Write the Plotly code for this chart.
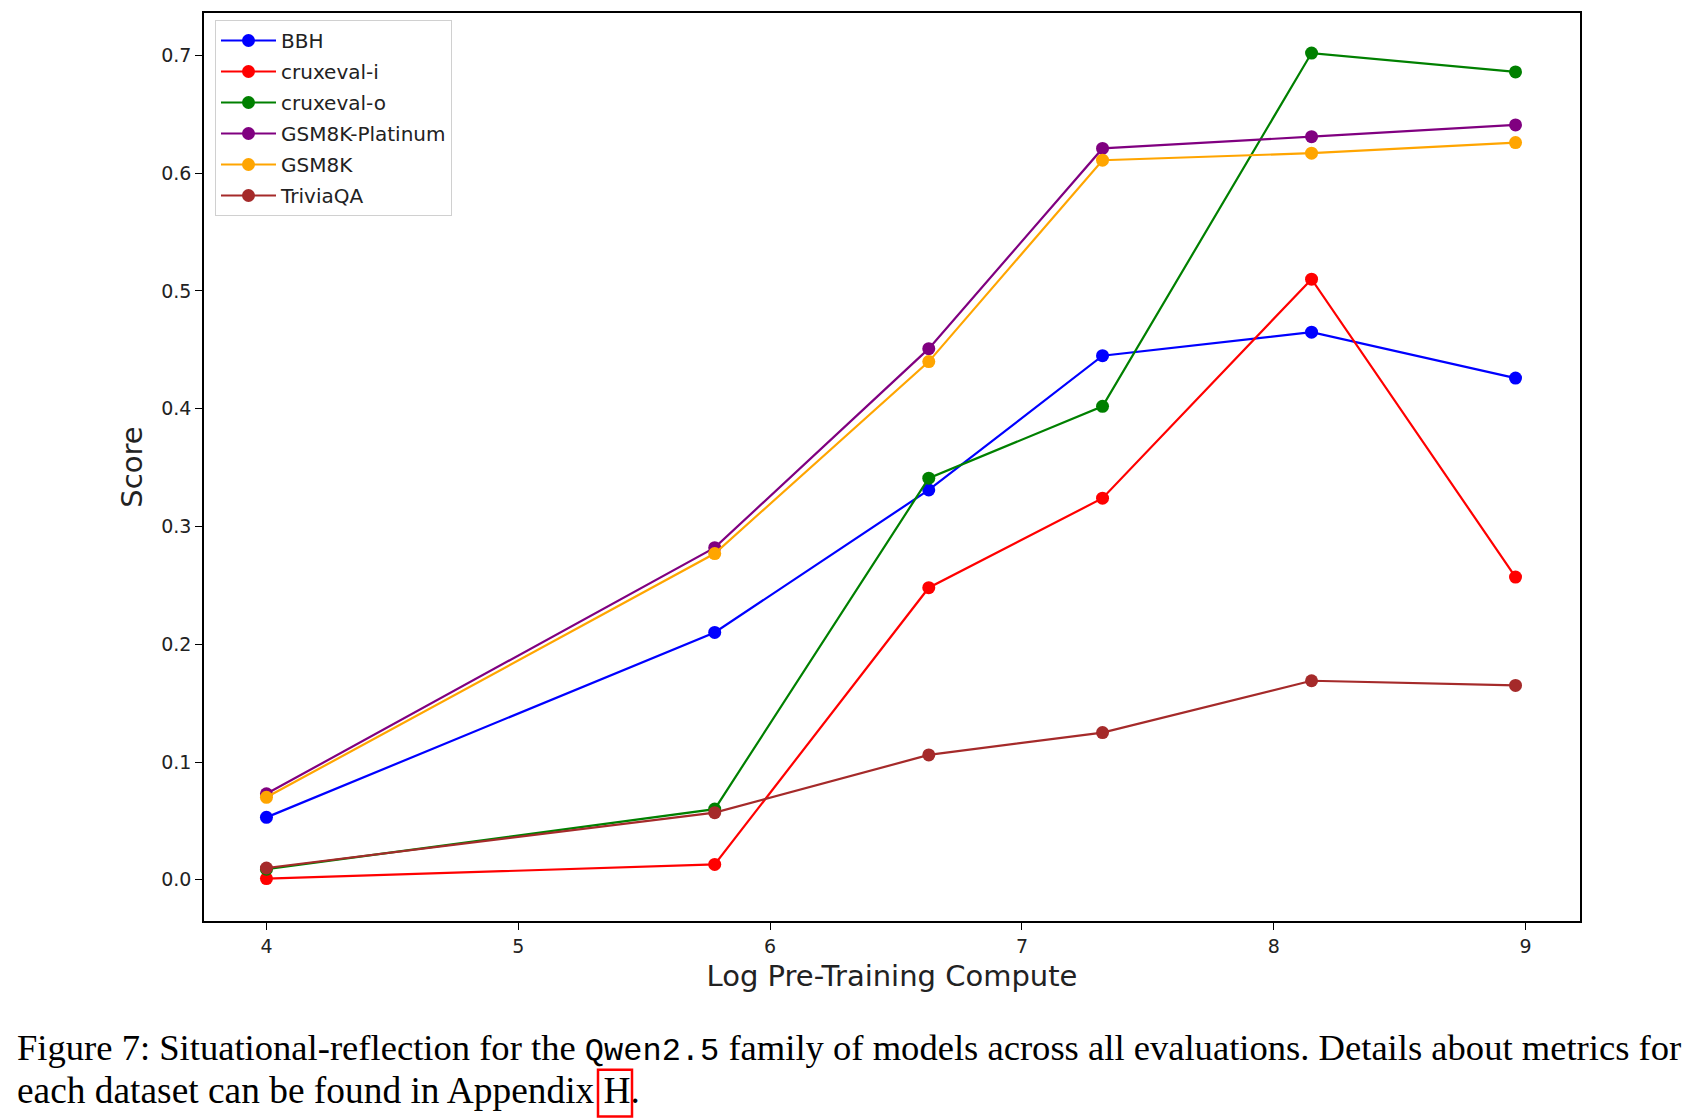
import plotly.graph_objects as go

# log pre-training compute for each Qwen2.5 model size
compute = [4.0, 5.78, 6.63, 7.32, 8.15, 8.96]

bbh = [0.053, 0.210, 0.331, 0.445, 0.465, 0.426]
cruxeval_i = [0.001, 0.013, 0.248, 0.324, 0.510, 0.257]
cruxeval_o = [0.009, 0.060, 0.341, 0.402, 0.702, 0.686]
gsm8k_platinum = [0.073, 0.282, 0.451, 0.621, 0.631, 0.641]
gsm8k = [0.070, 0.277, 0.440, 0.611, 0.617, 0.626]
triviaqa = [0.010, 0.057, 0.106, 0.125, 0.169, 0.165]

series = [
    ('BBH', bbh, 'blue'),
    ('cruxeval-i', cruxeval_i, 'red'),
    ('cruxeval-o', cruxeval_o, 'green'),
    ('GSM8K-Platinum', gsm8k_platinum, 'purple'),
    ('GSM8K', gsm8k, 'orange'),
    ('TriviaQA', triviaqa, 'brown'),
]

x_ticks = [4, 5, 6, 7, 8, 9]
y_ticks = [0.0, 0.1, 0.2, 0.3, 0.4, 0.5, 0.6, 0.7]

# page body has an 8px margin, so everything is laid out 8px up/left
OFF = 8
W, H = 1690, 1120
L, T = 204 - OFF, 11 - OFF
pw, ph = 1376, 910
R, B = W - L - pw, H - T - ph


def px(x):
    return (x - OFF - L) / pw


def py(y):
    return (T + ph - (y - OFF)) / ph


fig = go.Figure()
for name, vals, col in series:
    fig.add_trace(go.Scatter(x=compute, y=vals, name=name, legendgroup=name,
                             mode='lines+markers',
                             line=dict(color=col, width=2.2),
                             marker=dict(color=col, size=13)))

axis_style = dict(showline=True, linecolor='black', linewidth=1.5, mirror=True,
                  ticks='outside', ticklen=7, tickwidth=1.3, tickcolor='black',
                  showgrid=False, zeroline=False,
                  tickfont=dict(family='DejaVu Sans', size=19, color='#222'))

fig.update_xaxes(range=[3.752, 9.216], tickvals=x_ticks,
                 title=dict(text='Log Pre-Training Compute', standoff=10,
                            font=dict(family='DejaVu Sans', size=29, color='#222')),
                 **axis_style)
fig.update_yaxes(range=[-0.035, 0.736], tickvals=y_ticks, tickformat='.1f',
                 title=dict(text='Score', standoff=10,
                            font=dict(family='DejaVu Sans', size=29, color='#222')),
                 **axis_style)

fig.update_layout(
    width=W, height=H,
    margin=dict(l=L, r=R, t=T, b=B, pad=0),
    paper_bgcolor='white', plot_bgcolor='white',
    showlegend=True,
    legend=dict(x=px(215), y=py(18), xanchor='left', yanchor='top',
                bgcolor='rgba(255,255,255,0.8)', bordercolor='#d0d0d0', borderwidth=1,
                font=dict(family='DejaVu Sans', size=20, color='#222'),
                itemwidth=55, tracegroupgap=2),
)

fig.add_annotation(xref='paper', yref='paper', x=px(15), y=py(1049),
                   xanchor='left', yanchor='middle', showarrow=False,
                   font=dict(family='Liberation Serif', size=36.6, color='black'),
                   text='Figure 7: Situational-reflection for the '
                        '<span style="font-family:Liberation Mono;font-size:32px">Qwen2.5</span>'
                        ' family of models across all evaluations. Details about metrics for')
fig.add_annotation(xref='paper', yref='paper', x=px(15), y=py(1091),
                   xanchor='left', yanchor='middle', showarrow=False,
                   font=dict(family='Liberation Serif', size=37.4, color='black'),
                   text='each dataset can be found in Appendix H.')
fig.add_shape(type='rect', xref='paper', yref='paper',
              x0=px(598), x1=px(632), y0=py(1070), y1=py(1117),
              line=dict(color='red', width=2.5))

fig.write_html('out.html')
